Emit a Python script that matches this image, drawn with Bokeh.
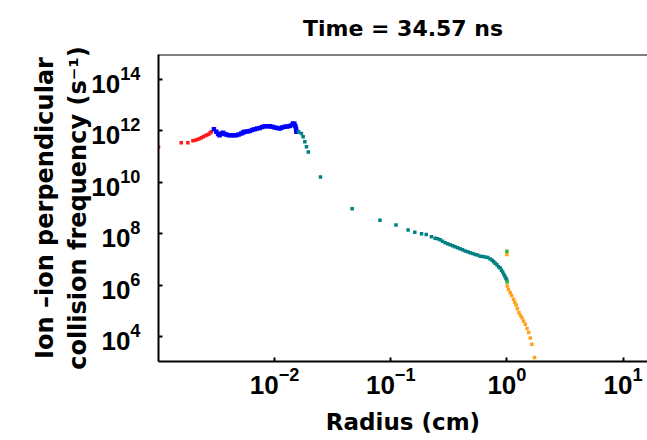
from bokeh.plotting import figure
from bokeh.models import FixedTicker, Span, Range1d
from bokeh.embed import file_html
from bokeh.resources import INLINE

title_text = "Time = 34.57 ns"
x_label = "Radius (cm)"
y_label = "Ion –ion perpendicular\ncollision frequency (s⁻¹)"
x_ticks = [1e-2, 1e-1, 1e0, 1e1]
y_ticks = [1e4, 1e6, 1e8, 1e10, 1e12, 1e14]

# red series
red_r = [1.0e-3, 1.57e-3, 1.79e-3, 1.98e-3, 2.07e-3, 2.16e-3, 2.25e-3, 2.34e-3,
         2.43e-3, 2.53e-3, 2.61e-3, 2.70e-3, 2.78e-3, 2.85e-3]
red_nu = [2.37e11, 3.45e11, 3.45e11, 4.12e11, 4.35e11, 4.62e11, 4.98e11, 5.38e11,
          5.89e11, 6.44e11, 6.92e11, 7.43e11, 8.26e11, 9.2e11]

# blue series
blue_r = [3.0e-3, 3.15e-3, 3.26e-3, 3.36e-3, 3.50e-3, 3.59e-3, 3.71e-3, 3.84e-3,
          4.02e-3, 4.24e-3, 4.44e-3, 4.68e-3, 4.90e-3, 5.17e-3, 5.36e-3, 5.52e-3,
          5.80e-3, 6.10e-3, 6.41e-3, 6.73e-3, 7.08e-3, 7.44e-3, 7.82e-3, 8.22e-3,
          8.63e-3, 9.07e-3, 9.53e-3, 1.0e-2, 1.05e-2, 1.11e-2, 1.16e-2, 1.22e-2,
          1.28e-2, 1.35e-2, 1.41e-2, 1.44e-2, 1.48e-2, 1.51e-2, 1.53e-2, 1.54e-2]
blue_nu = [1.16e12, 9.2e11, 7.55e11, 6.79e11, 7.91e11, 8.42e11, 7.55e11, 7.22e11,
           6.79e11, 6.79e11, 6.79e11, 6.79e11, 7.22e11, 7.91e11, 8.65e11, 9.2e11,
           9.6e11, 1.0e12, 1.08e12, 1.16e12, 1.23e12, 1.31e12, 1.41e12, 1.51e12,
           1.51e12, 1.51e12, 1.44e12, 1.35e12, 1.29e12, 1.23e12, 1.35e12, 1.44e12,
           1.50e12, 1.57e12, 1.69e12, 1.93e12, 1.88e12, 1.51e12, 1.18e12, 9.2e11]

# teal series
teal_r = [1.61e-2, 1.70e-2, 1.76e-2, 1.82e-2, 1.88e-2, 1.95e-2, 2.48e-2, 4.65e-2,
          8.07e-2, 0.111, 0.141, 0.161, 0.184, 0.202, 0.224, 0.241, 0.253, 0.266,
          0.279, 0.294, 0.309, 0.324, 0.341, 0.358, 0.376, 0.395, 0.415, 0.437,
          0.459, 0.482, 0.507, 0.533, 0.560, 0.588, 0.618, 0.650, 0.683, 0.718,
          0.747, 0.769, 0.793, 0.820, 0.847, 0.875, 0.898, 0.920, 0.942, 0.963,
          0.982, 0.996]
teal_nu = [9.2e11, 7.91e11, 5.89e11, 3.77e11, 2.41e11, 1.52e11, 1.61e10, 9.44e8,
           3.39e8, 2.21e8, 1.43e8, 1.16e8, 1.02e8, 9.46e7, 7.78e7, 6.81e7, 6.51e7,
           5.95e7, 5.21e7, 4.56e7, 4.17e7, 3.81e7, 3.48e7, 3.19e7, 2.92e7, 2.67e7,
           2.44e7, 2.19e7, 2.04e7, 1.87e7, 1.74e7, 1.59e7, 1.50e7, 1.37e7, 1.33e7,
           1.28e7, 1.20e7, 1.07e7, 9.57e6, 8.37e6, 7.33e6, 6.41e6, 5.36e6, 4.69e6,
           3.92e6, 3.28e6, 2.67e6, 2.24e6, 1.87e6, 1.61e6]

# green series
green_r = [1.0, 1.004]
green_nu = [2.13e7, 1.35e6]

# orange series
orange_r = [1.0, 1.006, 1.032, 1.068, 1.10, 1.14, 1.17, 1.20, 1.23, 1.27, 1.31,
            1.35, 1.39, 1.44, 1.49, 1.54, 1.59, 1.64, 1.73]
orange_nu = [1.59e7, 9.42e5, 7.03e5, 5.19e5, 4.04e5, 2.88e5, 2.22e5, 1.73e5,
             1.24e5, 8.73e4, 6.79e4, 5.58e4, 4.16e4, 3.10e4, 2.13e4, 1.47e4,
             9.15e3, 5.21e3, 1.58e3]

x_start, x_end = 1.0e-3, 16.24
y_start, y_end = 1107.0, 9.3e14

p = figure(width=647, height=440, x_axis_type="log", y_axis_type="log",
           x_range=Range1d(x_start, x_end), y_range=Range1d(y_start, y_end),
           output_backend="svg", toolbar_location=None,
           min_border_left=158, min_border_right=0, min_border_top=53,
           min_border_bottom=79)

p.outline_line_color = None
p.background_fill_color = "white"
p.border_fill_color = "white"
p.xgrid.visible = False
p.ygrid.visible = False

p.title.text = title_text
p.title.align = "center"
p.title.text_font = "DejaVu Sans"
p.title.text_font_style = "bold"
p.title.text_font_size = "22px"
p.title.text_color = "black"
p.title.standoff = 27
p.title.offset = 4

for ax in (p.xaxis[0], p.yaxis[0]):
    ax.axis_line_width = 2
    ax.axis_line_color = "black"
    ax.major_tick_in = 4
    ax.major_tick_out = 0
    ax.major_tick_line_width = 2
    ax.major_tick_line_color = "black"
    ax.minor_tick_line_color = None
    ax.major_label_text_font = "Liberation Sans"
    ax.major_label_text_font_style = "bold"
    ax.major_label_text_font_size = "26px"
    ax.major_label_text_color = "black"
    ax.axis_label_text_font = "DejaVu Sans"
    ax.axis_label_text_font_style = "bold"
    ax.axis_label_text_color = "black"

p.xaxis[0].ticker = FixedTicker(ticks=x_ticks)
p.yaxis[0].ticker = FixedTicker(ticks=y_ticks)
p.xaxis[0].axis_label = x_label
p.yaxis[0].axis_label = y_label
p.xaxis[0].axis_label_text_font_size = "23px"
p.yaxis[0].axis_label_text_font_size = "24px"
p.xaxis[0].major_label_standoff = 5
p.yaxis[0].major_label_standoff = 18
p.xaxis[0].axis_label_standoff = 12
p.yaxis[0].axis_label_standoff = -4

top_line = Span(location=y_end, dimension="width", line_color="black", line_width=2)
p.add_layout(top_line)

p.scatter(red_r, red_nu, fill_color="#ff1a1a", marker="square", size=3.5, line_color=None)
p.scatter(blue_r, blue_nu, fill_color="#0000ff", marker="square", size=4.5, line_color=None)
p.scatter(teal_r, teal_nu, fill_color="#008080", marker="square", size=3.5, line_color=None)
p.scatter(orange_r, orange_nu, fill_color="#ffa31a", marker="square", size=3.5, line_color=None)
p.scatter(green_r, green_nu, fill_color="#33bb33", marker="square", size=3.5, line_color=None)

open("out.html", "w").write(file_html(p, INLINE))
